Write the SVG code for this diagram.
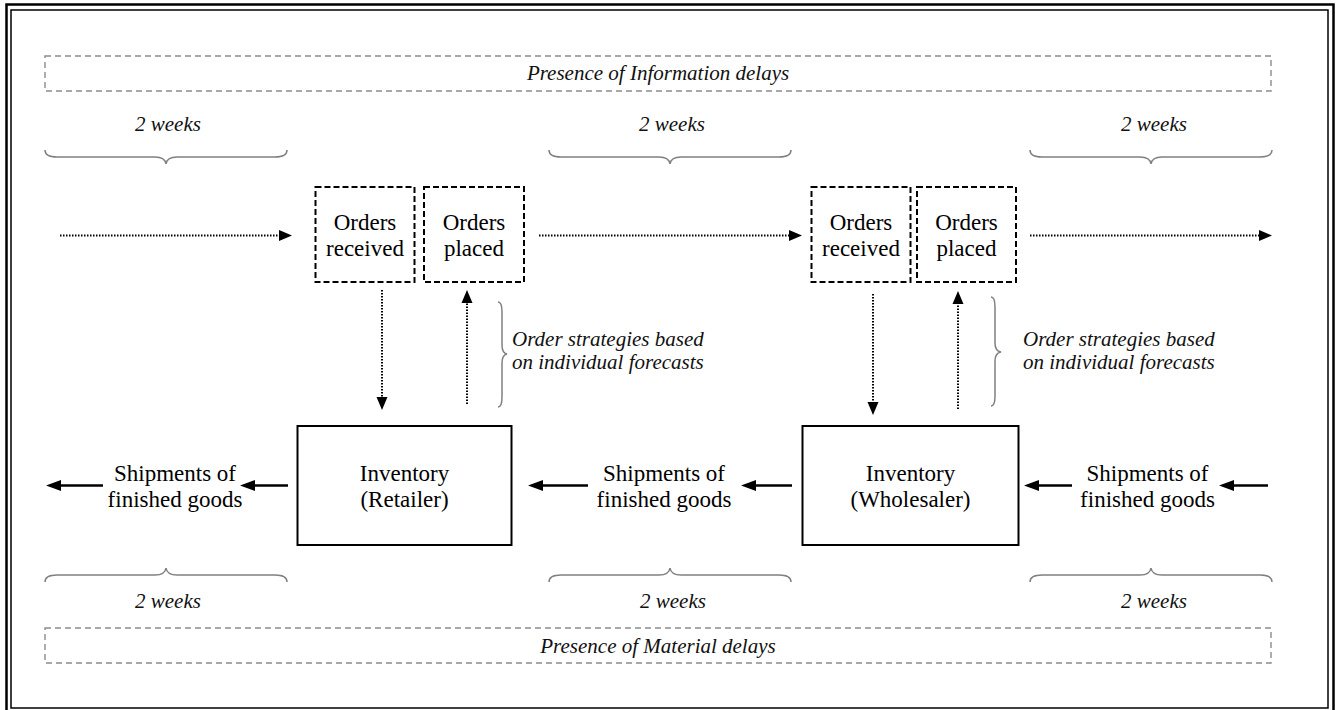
<svg xmlns="http://www.w3.org/2000/svg" width="1336" height="710" viewBox="0 0 1336 710">
<style>
.t{font-family:"Liberation Serif","Times New Roman",serif;font-size:23px;fill:#000;text-anchor:middle}
.i{font-family:"Liberation Serif","Times New Roman",serif;font-size:21px;font-style:italic;fill:#111;text-anchor:middle}
.il{font-family:"Liberation Serif","Times New Roman",serif;font-size:21px;font-style:italic;fill:#111}
.gbox{fill:none;stroke:#8c8c8c;stroke-width:1.4;stroke-dasharray:6 4}
.brace{fill:none;stroke:#808080;stroke-width:1.5}
.obox{fill:#fff;stroke:#000;stroke-width:2;stroke-dasharray:6 3}
.inv{fill:#fff;stroke:#000;stroke-width:2}
.dot{fill:none;stroke:#000;stroke-width:2;stroke-dasharray:1.5 1.5}
.sol{fill:none;stroke:#000;stroke-width:2.6}
</style>
<defs>
<marker id="ad" markerUnits="userSpaceOnUse" markerWidth="13" markerHeight="12" refX="3" refY="6" orient="auto"><path d="M0,0.5 L13,6 L0,11.5 z" fill="#000"/></marker>
<marker id="as" markerUnits="userSpaceOnUse" markerWidth="15" markerHeight="12" refX="4" refY="6" orient="auto"><path d="M0,0.5 L15,6 L0,11.5 z" fill="#000"/></marker>
</defs>
<rect width="1336" height="710" fill="#fff"/>
<g id="border">
<rect x="6.5" y="4.5" width="1327" height="720" fill="none" stroke="#000" stroke-width="2.5"/>
<rect x="11" y="10" width="1317" height="698" fill="none" stroke="#000" stroke-width="1.5"/>
</g>
<g id="info-delays">
<rect class="gbox" x="45" y="56" width="1226" height="35"/>
<text class="i" x="658" y="80">Presence of Information delays</text>
</g>
<g id="material-delays">
<rect class="gbox" x="45" y="628" width="1226" height="35"/>
<text class="i" x="658" y="653">Presence of Material delays</text>
</g>
<g id="top-weeks">
<text class="i" x="168" y="131">2 weeks</text>
<path class="brace" d="M45,150 Q45,157 57,157 L155,157 Q165,157 166,164 Q167,157 177,157 L275,157 Q287,157 287,150"/>
<text class="i" x="672" y="131">2 weeks</text>
<path class="brace" d="M549,150 Q549,157 561,157 L659,157 Q669,157 670,164 Q671,157 681,157 L779,157 Q791,157 791,150"/>
<text class="i" x="1154" y="131">2 weeks</text>
<path class="brace" d="M1030,150 Q1030,157 1042,157 L1140,157 Q1150,157 1151,164 Q1152,157 1162,157 L1260,157 Q1272,157 1272,150"/>
</g>
<g id="bottom-weeks">
<path class="brace" d="M45,582 Q45,575 57,575 L155,575 Q165,575 166,568 Q167,575 177,575 L275,575 Q287,575 287,582"/>
<text class="i" x="168" y="608">2 weeks</text>
<path class="brace" d="M549,582 Q549,575 561,575 L659,575 Q669,575 670,568 Q671,575 681,575 L779,575 Q791,575 791,582"/>
<text class="i" x="673" y="608">2 weeks</text>
<path class="brace" d="M1030,582 Q1030,575 1042,575 L1140,575 Q1150,575 1151,568 Q1152,575 1162,575 L1260,575 Q1272,575 1272,582"/>
<text class="i" x="1154" y="608">2 weeks</text>
</g>
<g id="retailer-orders-received">
<rect class="obox" x="315.5" y="187" width="99" height="95"/>
<text class="t" x="365" y="230">Orders</text>
<text class="t" x="365" y="256">received</text>
</g>
<g id="retailer-orders-placed">
<rect class="obox" x="424" y="187" width="100" height="95"/>
<text class="t" x="474" y="230">Orders</text>
<text class="t" x="474" y="256">placed</text>
</g>
<g id="wholesaler-orders-received">
<rect class="obox" x="811.5" y="187" width="99" height="95"/>
<text class="t" x="861" y="230">Orders</text>
<text class="t" x="861" y="256">received</text>
</g>
<g id="wholesaler-orders-placed">
<rect class="obox" x="917" y="187" width="99" height="95"/>
<text class="t" x="966.5" y="230">Orders</text>
<text class="t" x="966.5" y="256">placed</text>
</g>
<g id="retailer-inventory">
<rect class="inv" x="297.5" y="426" width="214" height="119"/>
<text class="t" x="404.5" y="481">Inventory</text>
<text class="t" x="404.5" y="507">(Retailer)</text>
</g>
<g id="wholesaler-inventory">
<rect class="inv" x="802.5" y="426" width="216" height="119"/>
<text class="t" x="910.5" y="481">Inventory</text>
<text class="t" x="910.5" y="507">(Wholesaler)</text>
</g>
<g id="shipments-left">
<text class="t" x="175" y="481">Shipments of</text>
<text class="t" x="175" y="507">finished goods</text>
</g>
<g id="shipments-middle">
<text class="t" x="664" y="481">Shipments of</text>
<text class="t" x="664" y="507">finished goods</text>
</g>
<g id="shipments-right">
<text class="t" x="1147.5" y="481">Shipments of</text>
<text class="t" x="1147.5" y="507">finished goods</text>
</g>
<g id="retailer-strategy">
<path class="brace" d="M498,302 Q502,302 502,312 L502,345 Q502,353 507,354 Q502,355 502,363 L502,397 Q502,407 498,407"/>
<text class="il" x="512" y="346">Order strategies based</text>
<text class="il" x="512" y="369">on individual forecasts</text>
</g>
<g id="wholesaler-strategy">
<path class="brace" d="M991,297 Q995,297 995,307 L995,343 Q995,351 1001,352 Q995,353 995,361 L995,396 Q995,406 991,406"/>
<text class="il" x="1023" y="346">Order strategies based</text>
<text class="il" x="1023" y="369">on individual forecasts</text>
</g>
<g id="connectors">
<line class="dot" x1="60" y1="235.5" x2="282" y2="235.5" marker-end="url(#ad)"/>
<line class="dot" x1="539" y1="235.5" x2="792" y2="235.5" marker-end="url(#ad)"/>
<line class="dot" x1="1030" y1="235.5" x2="1262" y2="235.5" marker-end="url(#ad)"/>
<line class="dot" x1="382" y1="290" x2="382" y2="400" marker-end="url(#ad)"/>
<line class="dot" x1="467" y1="404" x2="467" y2="300" marker-end="url(#ad)"/>
<line class="dot" x1="873" y1="294" x2="873" y2="405" marker-end="url(#ad)"/>
<line class="dot" x1="958" y1="409" x2="958" y2="301" marker-end="url(#ad)"/>
<line class="sol" x1="103" y1="485.5" x2="57" y2="485.5" marker-end="url(#as)"/>
<line class="sol" x1="288" y1="485.5" x2="251" y2="485.5" marker-end="url(#as)"/>
<line class="sol" x1="588" y1="485.5" x2="539" y2="485.5" marker-end="url(#as)"/>
<line class="sol" x1="792" y1="485.5" x2="752" y2="485.5" marker-end="url(#as)"/>
<line class="sol" x1="1072" y1="485.5" x2="1035" y2="485.5" marker-end="url(#as)"/>
<line class="sol" x1="1268" y1="485.5" x2="1230" y2="485.5" marker-end="url(#as)"/>
</g>
</svg>
